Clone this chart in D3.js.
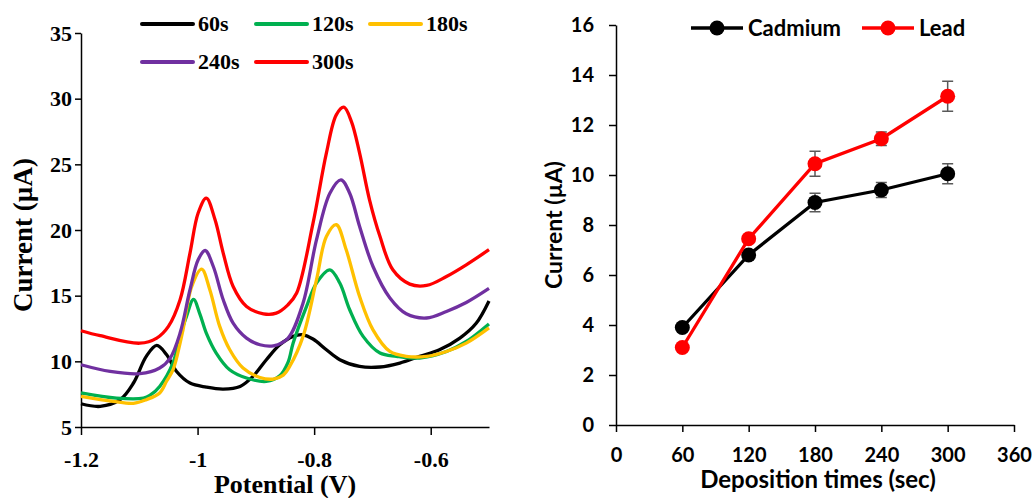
<!DOCTYPE html>
<html>
<head>
<meta charset="utf-8">
<script src="https://cdn.jsdelivr.net/npm/d3@7"></script>
<style>
  body { margin: 0; background: #fff; }
  .serif text { font-family: "Liberation Serif", "Times New Roman", serif; font-weight: bold; fill: #000; }
  .sans text { font-family: Lato, "Open Sans", sans-serif; font-weight: bold; fill: #000; }
</style>
</head>
<body>
<div id="chart"></div>
<script>
// Left panel: stripping voltammograms, [potential (V), current (uA)]
var curve60s = [[-1.2, 6.77], [-1.167, 6.57], [-1.133, 7.08], [-1.11, 8.35], [-1.088, 10.38], [-1.07, 11.21],
  [-1.053, 10.5], [-1.036, 9.23], [-1.013, 8.35], [-0.985, 8.04], [-0.956, 7.89], [-0.927, 8.09], [-0.905, 8.85],
  [-0.882, 10.12], [-0.859, 11.26], [-0.836, 11.9], [-0.819, 12.02], [-0.802, 11.7], [-0.779, 10.88], [-0.756, 10.12],
  [-0.722, 9.61], [-0.687, 9.57], [-0.653, 9.87], [-0.619, 10.38], [-0.585, 10.88], [-0.55, 11.77], [-0.522, 12.9],
  [-0.5, 14.6]];
var curve120s = [[-1.2, 7.6], [-1.139, 7.2], [-1.093, 7.2], [-1.082, 7.4], [-1.065, 8.09], [-1.042, 9.9], [-1.03, 11.9],
  [-1.019, 13.42], [-1.007, 14.72], [-0.996, 13.6], [-0.985, 12.15], [-0.968, 10.63], [-0.945, 9.36], [-0.916, 8.73],
  [-0.882, 8.47], [-0.859, 8.9], [-0.845, 9.9], [-0.836, 11.39], [-0.813, 14.18], [-0.796, 15.96], [-0.773, 16.97],
  [-0.756, 15.96], [-0.739, 13.93], [-0.716, 11.9], [-0.687, 10.63], [-0.659, 10.38], [-0.619, 10.25], [-0.573, 10.75],
  [-0.539, 11.51], [-0.5, 12.85]];
var curve180s = [[-1.2, 7.33], [-1.145, 6.95], [-1.11, 6.8], [-1.088, 7.08], [-1.065, 7.59], [-1.053, 8.5], [-1.042, 9.36],
  [-1.03, 11.39], [-1.025, 12.4], [-1.01, 15.7], [-0.993, 17.02], [-0.979, 15.45], [-0.962, 12.66], [-0.945, 10.9],
  [-0.922, 9.49], [-0.893, 8.77], [-0.87, 8.65], [-0.853, 8.95], [-0.842, 9.61], [-0.819, 11.9], [-0.796, 16.2],
  [-0.779, 19.5], [-0.762, 20.4], [-0.745, 18.49], [-0.722, 14.94], [-0.699, 12.4], [-0.67, 10.75], [-0.642, 10.38],
  [-0.607, 10.38], [-0.573, 10.75], [-0.539, 11.39], [-0.5, 12.55]];
var curve240s = [[-1.2, 9.74], [-1.15, 9.23], [-1.099, 9.06], [-1.065, 9.49], [-1.047, 10.25], [-1.03, 12.15], [-1.013, 15.45],
  [-0.999, 17.73], [-0.987, 18.44], [-0.973, 17.22], [-0.956, 14.69], [-0.939, 12.91], [-0.916, 11.77], [-0.893, 11.26],
  [-0.87, 11.18], [-0.845, 11.75], [-0.819, 14.44], [-0.796, 19.25], [-0.773, 22.8], [-0.754, 23.82], [-0.739, 22.8],
  [-0.722, 20.27], [-0.699, 17.22], [-0.67, 14.82], [-0.642, 13.62], [-0.607, 13.3], [-0.573, 13.8], [-0.539, 14.48],
  [-0.5, 15.55]];
var curve300s = [[-1.2, 12.33], [-1.167, 11.95], [-1.099, 11.38], [-1.07, 11.77], [-1.05, 12.66], [-1.03, 14.69], [-1.013, 18.24],
  [-0.999, 21.29], [-0.985, 22.43], [-0.97, 20.78], [-0.956, 18.24], [-0.939, 15.7], [-0.916, 14.18], [-0.887, 13.62],
  [-0.865, 13.67], [-0.845, 14.3], [-0.83, 15.2], [-0.802, 20.5], [-0.779, 25.85], [-0.762, 28.77], [-0.749, 29.35],
  [-0.736, 28.25], [-0.722, 25.85], [-0.705, 22.3], [-0.687, 19.5], [-0.665, 16.97], [-0.636, 15.88], [-0.607, 15.78],
  [-0.573, 16.46], [-0.539, 17.35], [-0.5, 18.5]];
var curveLabels = ["60s", "120s", "180s", "240s", "300s"];
var curveColors = ["#000000", "#00b050", "#ffc000", "#7030a0", "#ff0000"];
var potentialTicks = [-1.2, -1, -0.8, -0.6];
var currentTicksLeft = [5, 10, 15, 20, 25, 30, 35];

// Right panel: peak current vs deposition time
var depositionTimes = [60, 120, 180, 240, 300];
var cadmium = [3.9, 6.8, 8.9, 9.4, 10.05];
var cadmiumErr = [0.12, 0.15, 0.37, 0.3, 0.4];
var lead = [3.1, 7.45, 10.45, 11.45, 13.15];
var leadErr = [0.1, 0.15, 0.5, 0.27, 0.6];
var timeTicks = [0, 60, 120, 180, 240, 300, 360];
var currentTicksRight = [0, 2, 4, 6, 8, 10, 12, 14, 16];

var svgWidth = 1035;
var svgHeight = 498;

var svg = d3.select("#chart")
  .append("svg")
  .attr("width", svgWidth)
  .attr("height", svgHeight);

// ==============================
// Left panel
// ==============================
var left = svg.append("g").attr("class", "serif");

var xPot = d3.scaleLinear().domain([-1.2, -0.5]).range([81, 489]);
var yCurLeft = d3.scaleLinear().domain([5, 35]).range([427, 33]);

left.append("g")
  .attr("transform", "translate(0,427)")
  .call(d3.axisBottom(xPot).tickValues(potentialTicks).tickFormat(d => String(d)).tickSize(8).tickSizeOuter(0).tickPadding(16))
  .call(g => g.selectAll("text").style("font-size", "22px"));

left.append("g")
  .attr("transform", "translate(81,0)")
  .call(d3.axisLeft(yCurLeft).tickValues(currentTicksLeft).tickSize(6).tickSizeOuter(0).tickPadding(3))
  .call(g => g.selectAll("text").style("font-size", "22px"));

left.selectAll(".domain, .tick line").attr("stroke", "#000").attr("stroke-width", 1.5);

var series = curveLabels.map(function(label, i) {
  return { label: label, color: curveColors[i], values: [curve60s, curve120s, curve180s, curve240s, curve300s][i] };
});

var line = d3.line()
  .x(d => xPot(d[0]))
  .y(d => yCurLeft(d[1]))
  .curve(d3.curveCatmullRom.alpha(0.5));

left.selectAll(".curve")
  .data(series)
  .enter()
  .append("path")
  .attr("class", "curve")
  .attr("fill", "none")
  .attr("stroke", d => d.color)
  .attr("stroke-width", 3.3)
  .attr("d", d => line(d.values));

// legend, 3 per row
var legLeft = left.selectAll(".leg")
  .data(series)
  .enter()
  .append("g")
  .attr("transform", (d, i) => `translate(${142 + (i % 3) * 114}, ${24 + Math.floor(i / 3) * 38})`);

legLeft.append("line")
  .attr("x1", 0).attr("x2", 51)
  .attr("stroke", d => d.color)
  .attr("stroke-width", 4)
  .attr("stroke-linecap", "round");

legLeft.append("text")
  .attr("x", 56)
  .attr("dy", "0.33em")
  .style("font-size", "22px")
  .text(d => d.label);

// axis titles
left.append("text")
  .attr("x", 285)
  .attr("y", 493)
  .attr("text-anchor", "middle")
  .style("font-size", "26px")
  .text("Potential (V)");

left.append("text")
  .attr("transform", "translate(32,235) rotate(-90)")
  .attr("text-anchor", "middle")
  .style("font-size", "27px")
  .text("Current (µA)");

// ==============================
// Right panel
// ==============================
var right = svg.append("g").attr("class", "sans");

var xTime = d3.scaleLinear().domain([0, 360]).range([616, 1014]);
var yCurRight = d3.scaleLinear().domain([0, 16]).range([425, 25]);

right.append("g")
  .attr("transform", "translate(0,425)")
  .call(d3.axisBottom(xTime).tickValues(timeTicks).tickSize(7).tickSizeOuter(0).tickPadding(16))
  .call(g => g.selectAll("text").style("font-size", "20px"));

right.append("g")
  .attr("transform", "translate(616,0)")
  .call(d3.axisLeft(yCurRight).tickValues(currentTicksRight).tickSize(7).tickSizeOuter(0).tickPadding(15))
  .call(g => g.selectAll("text").style("font-size", "20px"));

right.selectAll(".domain, .tick line").attr("stroke", "#000").attr("stroke-width", 1.5);

var metals = [
  { name: "Cadmium", color: "#000000", values: cadmium, err: cadmiumErr },
  { name: "Lead", color: "#ff0000", values: lead, err: leadErr }
];

var metalLine = d3.line()
  .x((d, i) => xTime(depositionTimes[i]))
  .y(d => yCurRight(d));

metals.forEach(function(m) {
  var g = right.append("g");

  g.append("path")
    .attr("fill", "none")
    .attr("stroke", m.color)
    .attr("stroke-width", 3.3)
    .attr("d", metalLine(m.values));

  // error bars
  var eb = g.selectAll(".err")
    .data(m.values)
    .enter()
    .append("g")
    .attr("stroke", "#595959")
    .attr("stroke-width", 1.5);

  eb.append("line")
    .attr("x1", (d, i) => xTime(depositionTimes[i]))
    .attr("x2", (d, i) => xTime(depositionTimes[i]))
    .attr("y1", (d, i) => yCurRight(d + m.err[i]))
    .attr("y2", (d, i) => yCurRight(d - m.err[i]));

  eb.append("line")
    .attr("x1", (d, i) => xTime(depositionTimes[i]) - 5.5)
    .attr("x2", (d, i) => xTime(depositionTimes[i]) + 5.5)
    .attr("y1", (d, i) => yCurRight(d + m.err[i]))
    .attr("y2", (d, i) => yCurRight(d + m.err[i]));

  eb.append("line")
    .attr("x1", (d, i) => xTime(depositionTimes[i]) - 5.5)
    .attr("x2", (d, i) => xTime(depositionTimes[i]) + 5.5)
    .attr("y1", (d, i) => yCurRight(d - m.err[i]))
    .attr("y2", (d, i) => yCurRight(d - m.err[i]));

  g.selectAll("circle")
    .data(m.values)
    .enter()
    .append("circle")
    .attr("cx", (d, i) => xTime(depositionTimes[i]))
    .attr("cy", d => yCurRight(d))
    .attr("r", 7.5)
    .attr("fill", m.color);
});

// legend
var legRight = right.selectAll(".legm")
  .data(metals)
  .enter()
  .append("g")
  .attr("transform", (d, i) => `translate(${691 + i * 171}, 28)`);

legRight.append("line")
  .attr("x1", 0).attr("x2", 52)
  .attr("stroke", d => d.color)
  .attr("stroke-width", 3.3);

legRight.append("circle")
  .attr("cx", 26)
  .attr("r", 7.5)
  .attr("fill", d => d.color);

legRight.append("text")
  .attr("x", 57)
  .attr("dy", "0.36em")
  .style("font-size", "22px")
  .text(d => d.name);

// axis titles
right.append("text")
  .attr("x", 818)
  .attr("y", 488)
  .attr("text-anchor", "middle")
  .style("font-size", "24px")
  .text("Deposition times (sec)");

right.append("text")
  .attr("transform", "translate(562,225) rotate(-90)")
  .attr("text-anchor", "middle")
  .style("font-size", "23px")
  .text("Current (µA)");
</script>
</body>
</html>
